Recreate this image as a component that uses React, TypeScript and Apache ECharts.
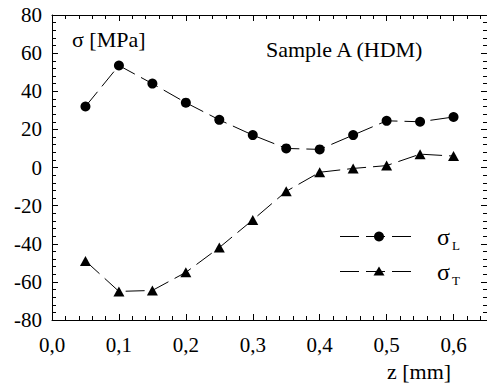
import React, { useEffect, useRef } from "react";
import * as echarts from "echarts";

const zValues = [0.05, 0.1, 0.15, 0.2, 0.25, 0.3, 0.35, 0.4, 0.45, 0.5, 0.55, 0.6];
const sigmaL = [32, 53.5, 44, 34, 25, 17, 10, 9.5, 17, 24.5, 24, 26.5];
const sigmaT = [-49, -65, -64.5, -55, -42, -27.5, -12.5, -2.5, -0.5, 1, 7, 6];
const xTickLabels = ["0,0", "0,1", "0,2", "0,3", "0,4", "0,5", "0,6"];

const FONT = "Liberation Serif";
const CSS = `svg text, svg tspan { font-family: "Liberation Serif", "Times New Roman", serif !important; }`;

export default function App() {
  const ref = useRef<HTMLDivElement>(null);
  useEffect(() => {
    if (!ref.current) return;
    let disposed = false;
    const chart = echarts.init(ref.current, null, { renderer: "svg" });
    const lineStyle = { color: "#000", width: 1, type: [19, 7] as number[] };
    const axisBase = {
      type: "value" as const,
      min: 0,
      max: 0.65,
      splitLine: { show: false },
      axisLabel: { show: false },
      axisLine: { show: true, onZero: false, lineStyle: { color: "#000", width: 1 } },
    };
    const yBase = {
      type: "value" as const,
      min: -80,
      max: 80,
      interval: 20,
      splitLine: { show: false },
      axisLine: { show: true, onZero: false, lineStyle: { color: "#000", width: 1 } },
      axisTick: { show: true, inside: true, length: 6, lineStyle: { color: "#000" } },
      minorTick: { show: true, splitNumber: 5, length: 4, lineStyle: { color: "#000" } },
      minorSplitLine: { show: false },
    };
    const option: any = {
      animation: false,
      grid: { left: 52, top: 15, width: 438.75, height: 305 },
      xAxis: [
        {
          ...axisBase,
          position: "bottom",
          interval: 0.1,
          axisTick: { show: true, inside: true, length: 6, lineStyle: { color: "#000" } },
          axisLabel: {
            show: true,
            margin: 14,
            color: "#000",
            fontFamily: FONT,
            fontSize: 21,
            showMaxLabel: false,
            formatter: (v: number) => {
              const i = Math.round(v * 10);
              if (Math.abs(v * 10 - i) > 1e-6) return "";
              return xTickLabels[i] ?? "";
            },
          },
        },
        { ...axisBase, position: "bottom", interval: 0.02, axisLine: { show: false, onZero: false },
          axisTick: { show: true, inside: true, length: 4, lineStyle: { color: "#000" } } },
        { ...axisBase, position: "top", interval: 0.1,
          axisTick: { show: true, inside: true, length: 6, lineStyle: { color: "#000" } } },
        { ...axisBase, position: "top", interval: 0.02, axisLine: { show: false, onZero: false },
          axisTick: { show: true, inside: true, length: 4, lineStyle: { color: "#000" } } },
      ],
      yAxis: [
        { ...yBase, position: "left",
          axisLabel: { color: "#000", fontFamily: FONT, fontSize: 21, margin: 10 } },
        { ...yBase, position: "right", axisLabel: { show: false } },
      ],
      series: [
        {
          name: "σL", type: "line", xAxisIndex: 0, yAxisIndex: 0,
          data: zValues.map((z, i) => [z, sigmaL[i]]),
          symbol: "circle", symbolSize: 10, itemStyle: { color: "#000" }, lineStyle,
        },
        {
          name: "σT", type: "line", xAxisIndex: 0, yAxisIndex: 0,
          data: zValues.map((z, i) => [z, sigmaT[i]]),
          symbol: "triangle", symbolSize: [11, 10], itemStyle: { color: "#000" }, lineStyle,
        },
      ],
      graphic: [
        { type: "text", left: 72, top: 28, style: { text: "σ [MPa]", fontFamily: FONT, fontSize: 22, fill: "#000" } },
        { type: "text", left: 266, top: 38, style: { text: "Sample A (HDM)", fontFamily: FONT, fontSize: 22, fill: "#000" } },
        { type: "text", left: 387, top: 360, style: { text: "z [mm]", fontFamily: FONT, fontSize: 22, fill: "#000" } },
        { type: "line", shape: { x1: 340, y1: 236.5, x2: 411, y2: 236.5 }, style: { stroke: "#000", lineWidth: 1, lineDash: [19, 7] } },
        { type: "circle", shape: { cx: 379, cy: 236.5, r: 5 }, style: { fill: "#000" } },
        { type: "line", shape: { x1: 340, y1: 271.5, x2: 411, y2: 271.5 }, style: { stroke: "#000", lineWidth: 1, lineDash: [19, 7] } },
        { type: "polygon", shape: { points: [[379, 266.5], [384.5, 275.5], [373.5, 275.5]] }, style: { fill: "#000" } },
        { type: "text", x: 437, y: 236.5, style: { text: "σ", fontFamily: FONT, fontSize: 24, fill: "#000", verticalAlign: "middle" } },
        { type: "text", x: 452, y: 245, style: { text: "L", fontFamily: FONT, fontSize: 13, fill: "#000", verticalAlign: "middle" } },
        { type: "text", x: 437, y: 271.5, style: { text: "σ", fontFamily: FONT, fontSize: 24, fill: "#000", verticalAlign: "middle" } },
        { type: "text", x: 452, y: 280, style: { text: "T", fontFamily: FONT, fontSize: 13, fill: "#000", verticalAlign: "middle" } },
      ],
    };
    chart.setOption(option);
    const fonts: any = (document as any).fonts;
    if (fonts && fonts.load) {
      fonts.load('21px "Liberation Serif"').then(() => {
        if (!disposed) chart.setOption(option, true);
      }).catch(() => {});
    }
    return () => {
      disposed = true;
      chart.dispose();
    };
  }, []);
  return (
    <div style={{ position: "fixed", left: 0, top: 0, width: 487, height: 383, background: "#fff" }}>
      <style>{CSS}</style>
      <div ref={ref} style={{ width: 487, height: 383, fontFamily: FONT }} />
    </div>
  );
}
